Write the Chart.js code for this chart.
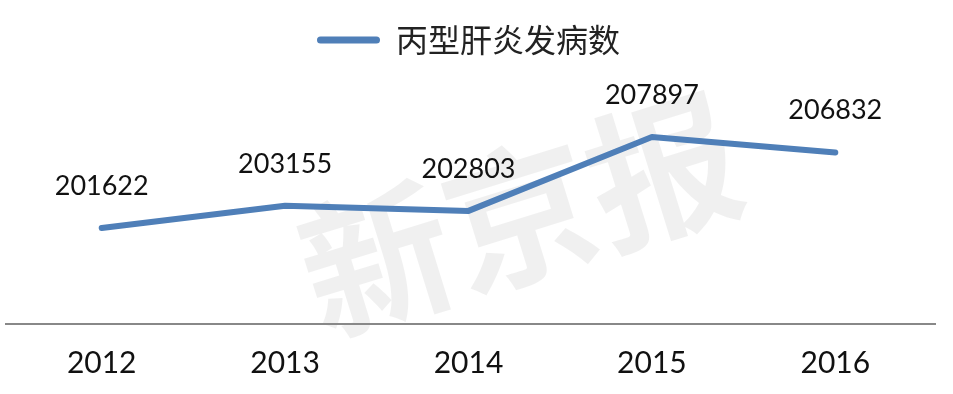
<!DOCTYPE html>
<html>
<head>
<meta charset="utf-8">
<script src="https://cdn.jsdelivr.net/npm/chart.js@4"></script>
<style>
  html, body { margin: 0; padding: 0; background: #fff; }
  #wrap { width: 953px; height: 394px; }
</style>
</head>
<body>
<div id="wrap"><canvas id="myChart"></canvas></div>
<script>
// data
const years = ['2012', '2013', '2014', '2015', '2016'];
const cases = [201622, 203155, 202803, 207897, 206832];
const seriesName = '丙型肝炎发病数';

// values drawn above each point
const valueLabels = {
    id: 'valueLabels',
    afterDatasetsDraw(chart) {
        const ctx = chart.ctx;
        const meta = chart.getDatasetMeta(0);
        ctx.save();
        ctx.font = '27px Lato, "Open Sans", sans-serif';
        ctx.fillStyle = '#111';
        ctx.textAlign = 'center';
        ctx.textBaseline = 'middle';
        meta.data.forEach(function(pt, i) {
            ctx.fillText(String(cases[i]), pt.x, pt.y - 42);
        });
        ctx.restore();
    }
};

// faint newspaper watermark behind the line, plus the wide axis rule
const watermark = {
    id: 'watermark',
    beforeDatasetsDraw(chart) {
        const ctx = chart.ctx;
        ctx.save();
        ctx.translate(520, 215);
        ctx.rotate(-0.3);
        ctx.font = 'bold 150px "Noto Sans CJK SC", sans-serif';
        ctx.fillStyle = 'rgba(0,0,0,0.06)';
        ctx.textAlign = 'center';
        ctx.textBaseline = 'middle';
        ctx.fillText('新京报', 0, 0);
        ctx.restore();

        // axis line runs a little past the plot area, as in the original
        const y = chart.scales.x.top;
        ctx.save();
        ctx.strokeStyle = '#888';
        ctx.lineWidth = 2;
        ctx.beginPath();
        ctx.moveTo(5, y);
        ctx.lineTo(936, y);
        ctx.stroke();
        ctx.restore();
    }
};

const ctx = document.getElementById('myChart');
const myChart = new Chart(ctx, {
    type: 'line',
    data: {
        labels: years,
        datasets: [{
            label: seriesName,
            data: cases,
            borderColor: '#4F7FB8',
            backgroundColor: '#4F7FB8',
            borderWidth: 6,
            borderCapStyle: 'round',
            borderJoinStyle: 'round',
            pointRadius: 0,
            tension: 0
        }]
    },
    options: {
        responsive: true,
        maintainAspectRatio: false,
        animation: false,
        layout: { padding: { top: 24, left: 10, right: 26, bottom: 0 } },
        plugins: {
            tooltip: { enabled: false },
            legend: {
                position: 'top',
                labels: {
                    boxWidth: 63,
                    boxHeight: 7,
                    padding: 0,
                    color: '#222',
                    font: { family: '"Noto Sans CJK SC", sans-serif', size: 32 },
                    useBorderRadius: true,
                    borderRadius: 3.5,
                    generateLabels: function(chart) {
                        return Chart.defaults.plugins.legend.labels.generateLabels(chart).map(function(item) {
                            item.lineWidth = 0;
                            item.strokeStyle = 'rgba(0,0,0,0)';
                            return item;
                        });
                    }
                }
            }
        },
        scales: {
            y: {
                display: false,
                min: 195000,
                max: 212800
            },
            x: {
                offset: true,
                grid: { display: false, drawTicks: false },
                border: { display: false },
                ticks: {
                    padding: 21,
                    color: '#111',
                    font: { family: 'Lato, sans-serif', size: 30 }
                },
                afterFit: function(scale) { scale.height = 70; }
            }
        }
    },
    plugins: [watermark, valueLabels]
});
</script>
</body>
</html>
